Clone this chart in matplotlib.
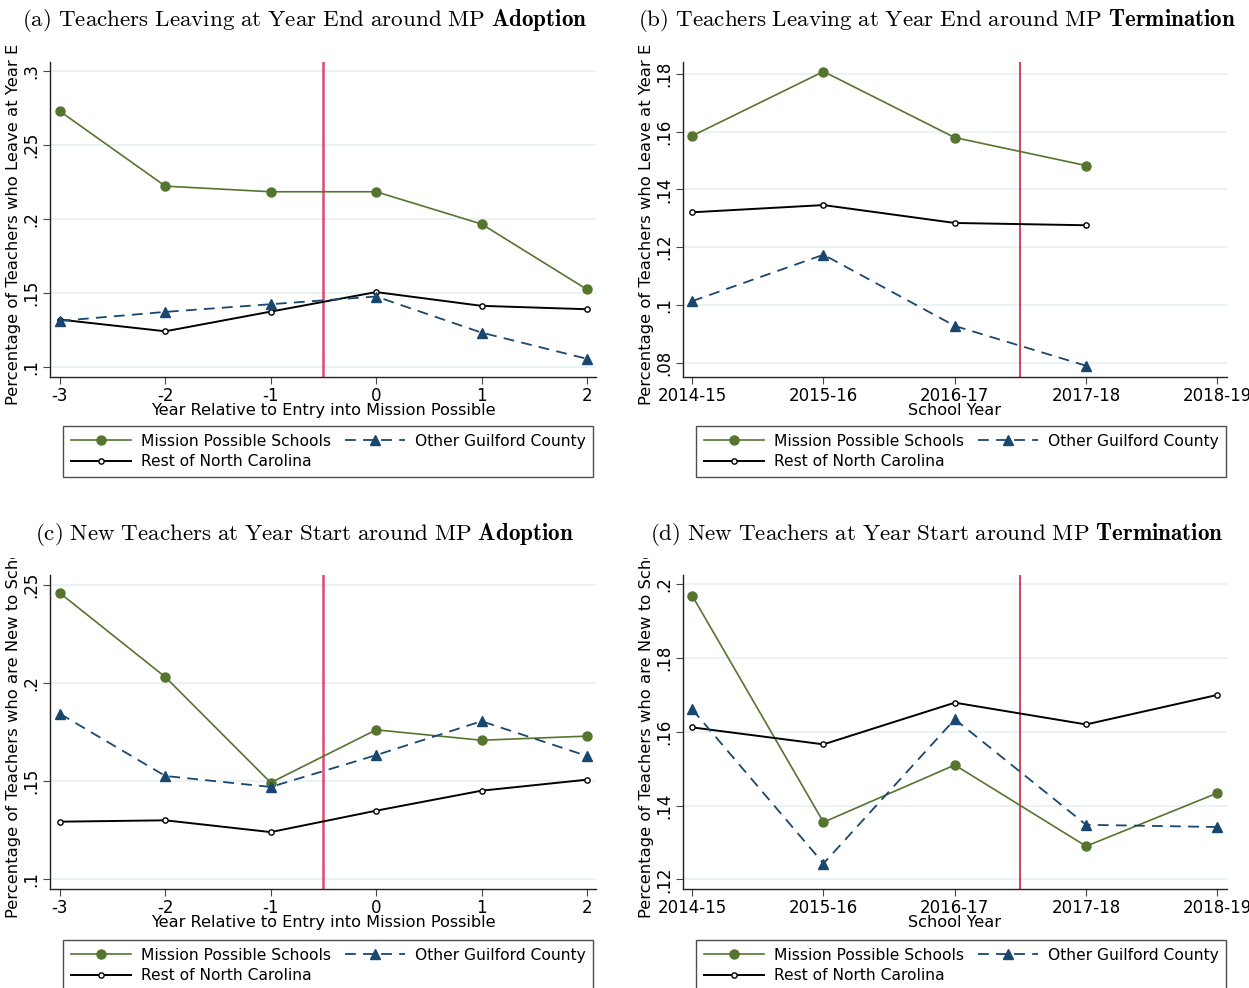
"""
Teacher turnover around Mission Possible adoption / termination
Four-panel event-study style figure (Stata-like look)
"""

import matplotlib
matplotlib.use('Agg')
import matplotlib.pyplot as plt
from matplotlib.transforms import Bbox

plt.rcParams['font.family'] = 'DejaVu Sans'
plt.rcParams['mathtext.fontset'] = 'cm'

# ---- data ----
rel_years = [-3, -2, -1, 0, 1, 2]
rel_labels = ['-3', '-2', '-1', '0', '1', '2']
school_years = ['2014-15', '2015-16', '2016-17', '2017-18', '2018-19']

# (a) leaving at year end, around adoption
leave_adopt_mp = [0.2730, 0.2224, 0.2186, 0.2186, 0.1968, 0.1526]
leave_adopt_gc = [0.1313, 0.1374, 0.1426, 0.1478, 0.1234, 0.1057]
leave_adopt_nc = [0.1322, 0.1243, 0.1376, 0.1508, 0.1415, 0.1392]

# (b) leaving at year end, around termination (no 2018-19 point)
leave_term_mp = [0.1586, 0.1809, 0.1580, 0.1483]
leave_term_gc = [0.1013, 0.1174, 0.0927, 0.0789]
leave_term_nc = [0.1321, 0.1346, 0.1284, 0.1276]

# (c) new teachers at year start, around adoption
new_adopt_mp = [0.2459, 0.2031, 0.1493, 0.1762, 0.1709, 0.1730]
new_adopt_gc = [0.1844, 0.1527, 0.1471, 0.1633, 0.1806, 0.1629]
new_adopt_nc = [0.1294, 0.1301, 0.1241, 0.1350, 0.1452, 0.1508]

# (d) new teachers at year start, around termination
new_term_mp = [0.1969, 0.1355, 0.1510, 0.1290, 0.1434]
new_term_gc = [0.1661, 0.1243, 0.1634, 0.1348, 0.1342]
new_term_nc = [0.1612, 0.1566, 0.1679, 0.1620, 0.1700]

GREEN = '#55752f'
NAVY = '#1a476f'
RED_A = '#dc4a6e'
RED_B = '#c8102e'
GRID = '#eaf2f3'

W, H = 1249, 988
fig = plt.figure(figsize=(W / 100, H / 100), dpi=100)


def px_axes(left, top, right, bottom):
    return fig.add_axes([left / W, 1 - bottom / H, (right - left) / W, (bottom - top) / H])


def panel(ax, x, mp, gc, nc, xlabels, yticks, ylim, xlim, vline, vcolor, vlw, xlabel):
    ax.plot(x[:len(mp)], mp, color=GREEN, lw=1.2, marker='o', ms=6.5,
            label='Mission Possible Schools', zorder=3)
    ax.plot(x[:len(nc)], nc, color='black', lw=1.4, marker='o', ms=3.8, mfc='white',
            mec='black', mew=1.0, label='Rest of North Carolina', zorder=3)
    ax.plot(x[:len(gc)], gc, color=NAVY, lw=1.3, ls=(0, (6, 4)), marker='^', ms=7,
            label='Other Guilford County', zorder=3)
    ax.axvline(vline, color=vcolor, lw=vlw, zorder=2)
    ax.set_xlim(xlim)
    ax.set_ylim(ylim)
    ax.set_xticks(x)
    ax.set_xticklabels(xlabels, fontsize=12)
    ax.set_yticks(yticks)
    ax.set_yticklabels([('%g' % t).lstrip('0') for t in yticks], fontsize=12,
                       rotation=90, va='center')
    ax.grid(axis='y', color=GRID, lw=1.5, zorder=0)
    ax.set_axisbelow(True)
    for s in ['top', 'right']:
        ax.spines[s].set_visible(False)
    for s in ['left', 'bottom']:
        ax.spines[s].set_color('#222222')
        ax.spines[s].set_linewidth(1.0)
    ax.tick_params(length=5, width=0.8, color='#444444', pad=2)
    ax.set_xlabel(xlabel, fontsize=11.6, labelpad=-1)


def add_legend(ax, left, top):
    handles, labels = ax.get_legend_handles_labels()
    leg = fig.legend(handles, labels, ncol=2, loc='upper left',
                     bbox_to_anchor=(left / W, 1 - top / H), bbox_transform=fig.transFigure,
                     borderaxespad=0, fontsize=11.2, frameon=True, fancybox=False,
                     handlelength=3.9, handletextpad=0.6, columnspacing=0.9,
                     labelspacing=0.35, borderpad=0.5)
    leg.get_frame().set_edgecolor('#222222')
    leg.get_frame().set_linewidth(1.0)


def ylabel_clipped(text, x, bottom, clip_top):
    # Stata cut these long labels off at the top of the panel
    t = fig.text(x / W, 1 - bottom / H, text, rotation=90, ha='center', va='bottom',
                 fontsize=11.8)
    t.set_clip_box(Bbox.from_extents(0, 0, W, H - clip_top))
    t.set_clip_on(True)


def title(text, bold, cx, cy):
    words = text.replace(' ', r'\ ')
    fig.text(cx / W, 1 - cy / H, r'$\mathrm{%s}\ \mathbf{%s}$' % (words, bold),
             ha='center', va='center', fontsize=16.6)


# ---- (a) ----
ax_a = px_axes(50, 62, 596, 377)
panel(ax_a, rel_years, leave_adopt_mp, leave_adopt_gc, leave_adopt_nc, rel_labels,
      [0.1, 0.15, 0.2, 0.25, 0.3], (0.0934, 0.3063), (-3.094, 2.086), -0.5, RED_A, 1.8,
      'Year Relative to Entry into Mission Possible')
title('(a) Teachers Leaving at Year End around MP', 'Adoption', 305, 20)
ylabel_clipped('Percentage of Teachers who Leave at Year End', 14, 405, 44)
add_legend(ax_a, 63, 426)

# ---- (b) ----
xb = list(range(len(school_years)))
ax_b = px_axes(683, 62, 1227, 377)
panel(ax_b, xb, leave_term_mp, leave_term_gc, leave_term_nc, school_years,
      [0.08, 0.1, 0.12, 0.14, 0.16, 0.18], (0.075, 0.1842), (-0.07, 4.073), 2.5, RED_B, 1.1,
      'School Year')
title('(b) Teachers Leaving at Year End around MP', 'Termination', 937, 20)
ylabel_clipped('Percentage of Teachers who Leave at Year End', 646, 405, 44)
add_legend(ax_b, 696, 426)

# ---- (c) ----
ax_c = px_axes(50, 575, 596, 889)
panel(ax_c, rel_years, new_adopt_mp, new_adopt_gc, new_adopt_nc, rel_labels,
      [0.1, 0.15, 0.2, 0.25], (0.0951, 0.2551), (-3.094, 2.086), -0.5, RED_A, 1.8,
      'Year Relative to Entry into Mission Possible')
title('(c) New Teachers at Year Start around MP', 'Adoption', 305, 534)
ylabel_clipped('Percentage of Teachers who are New to School', 14, 918, 558)
add_legend(ax_c, 63, 940)

# ---- (d) ----
ax_d = px_axes(683, 575, 1227, 889)
panel(ax_d, xb, new_term_mp, new_term_gc, new_term_nc, school_years,
      [0.12, 0.14, 0.16, 0.18, 0.2], (0.1174, 0.2025), (-0.07, 4.073), 2.5, RED_B, 1.1,
      'School Year')
title('(d) New Teachers at Year Start around MP', 'Termination', 937, 534)
ylabel_clipped('Percentage of Teachers who are New to School', 646, 918, 558)
add_legend(ax_d, 696, 940)

fig.savefig('out.png', dpi=100)
